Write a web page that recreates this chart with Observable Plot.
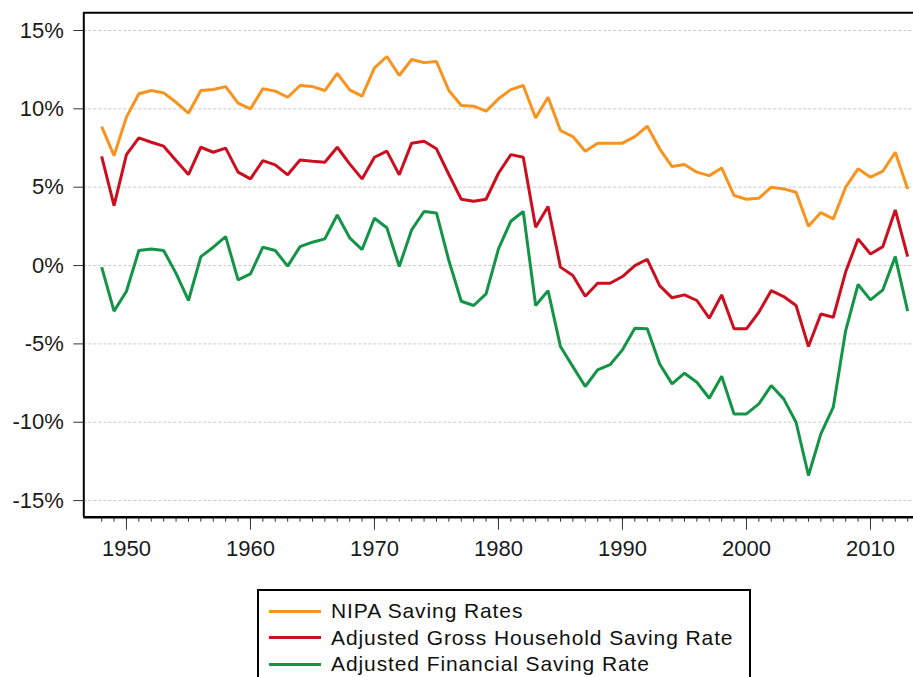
<!DOCTYPE html>
<html>
<head>
<meta charset="utf-8">
<script src="https://cdn.jsdelivr.net/npm/d3@7"></script>
<script src="https://cdn.jsdelivr.net/npm/@observablehq/plot@0.6"></script>
<style>
  html, body { margin: 0; padding: 0; background: #fff; }
  #wrap { position: relative; width: 913px; height: 677px; overflow: hidden; background: #fff;
          font-family: "Liberation Sans", Arial, sans-serif; }
  #chart svg { display: block; }
  #legend { position: absolute; left: 257px; top: 589px; width: 490px; height: 120px;
            border: 2px solid #000; background: #fff; }
  .row { position: absolute; left: 10px; height: 26px; display: flex; align-items: center; }
  .swatch { width: 52px; height: 3px; margin-right: 10px; }
  .lab { font-size: 21px; letter-spacing: 0.9px; color: #111; white-space: nowrap; line-height: 26px; }
</style>
</head>
<body>
<div id="wrap">
  <div id="chart"></div>
  <div id="legend"></div>
</div>
<script>
// ---- data (percent) ----
const years = [1948,1949,1950,1951,1952,1953,1954,1955,1956,1957,1958,1959,1960,1961,1962,1963,1964,1965,1966,1967,1968,1969,1970,1971,1972,1973,1974,1975,1976,1977,1978,1979,1980,1981,1982,1983,1984,1985,1986,1987,1988,1989,1990,1991,1992,1993,1994,1995,1996,1997,1998,1999,2000,2001,2002,2003,2004,2005,2006,2007,2008,2009,2010,2011,2012,2013];

const nipa = [8.87,7.02,9.47,10.96,11.17,11.02,10.42,9.72,11.17,11.23,11.42,10.36,10.0,11.28,11.13,10.74,11.49,11.42,11.17,12.27,11.21,10.81,12.61,13.34,12.13,13.15,12.95,13.02,11.17,10.21,10.17,9.85,10.64,11.23,11.49,9.42,10.74,8.62,8.23,7.30,7.81,7.81,7.81,8.23,8.89,7.45,6.32,6.45,5.96,5.74,6.23,4.47,4.23,4.30,5.0,4.89,4.68,2.51,3.38,2.98,5.0,6.17,5.64,6.02,7.23,4.89];

const grossHH = [6.96,3.83,7.08,8.15,7.87,7.62,6.70,5.81,7.55,7.23,7.49,5.96,5.53,6.70,6.42,5.79,6.74,6.66,6.59,7.55,6.49,5.53,6.91,7.30,5.79,7.81,7.93,7.45,5.81,4.23,4.10,4.23,5.89,7.08,6.91,2.45,3.77,-0.10,-0.64,-1.96,-1.13,-1.13,-0.70,0.0,0.40,-1.28,-2.06,-1.87,-2.23,-3.36,-1.87,-4.04,-4.04,-2.98,-1.60,-1.98,-2.55,-5.17,-3.09,-3.30,-0.40,1.70,0.74,1.21,3.55,0.57];

const financial = [-0.10,-2.91,-1.64,0.96,1.06,0.96,-0.50,-2.23,0.57,1.17,1.85,-0.91,-0.53,1.17,0.96,-0.04,1.21,1.49,1.70,3.23,1.77,1.02,3.02,2.41,-0.06,2.28,3.45,3.36,0.32,-2.28,-2.55,-1.81,1.06,2.83,3.45,-2.55,-1.60,-5.17,-6.45,-7.72,-6.66,-6.33,-5.38,-4.0,-4.04,-6.28,-7.55,-6.87,-7.45,-8.47,-7.06,-9.47,-9.47,-8.83,-7.66,-8.51,-10.0,-13.40,-10.74,-9.04,-4.15,-1.21,-2.19,-1.55,0.57,-2.91];

const seriesNames = ["NIPA Saving Rates", "Adjusted Gross Household Saving Rate", "Adjusted Financial Saving Rate"];
const seriesColors = ["#F7931E", "#CC0E1F", "#139447"];
const yTicks = [-15, -10, -5, 0, 5, 10, 15];
const xTicks = [1950, 1960, 1970, 1980, 1990, 2000, 2010];

// ---- build table ----
const seriesValues = [nipa, grossHH, financial];
const rows = [];
seriesValues.forEach((vals, s) => {
  vals.forEach((v, i) => rows.push({ year: years[i], value: v, series: seriesNames[s] }));
});

const xDomain = [1946.56, 2013.47];
const yDomain = [-16.06, 16.13];

const chart = Plot.plot({
  width: 913,
  height: 575,
  marginTop: 12.3,
  marginLeft: 83.3,
  marginRight: 0,
  marginBottom: 58.3,
  x: { domain: xDomain, axis: null },
  y: { domain: yDomain, axis: null },
  color: { domain: seriesNames, range: seriesColors },
  style: { fontFamily: "'Liberation Sans', Arial, sans-serif", background: "#fff", color: "#1a1a1a" },
  marks: [
    Plot.ruleY(yTicks, { stroke: "#c9c9c9", strokeDasharray: "3,2", strokeWidth: 1 }),
    Plot.line(rows, { x: "year", y: "value", z: "series", stroke: "series", strokeWidth: 3, strokeLinejoin: "miter", strokeLinecap: "butt" }),
    Plot.axisY({ ticks: yTicks, tickSize: 10, tickPadding: 10, tickFormat: d => d + "%", label: null, fontSize: 22, stroke: "#333" }),
    Plot.axisX({ ticks: years, tickSize: 5, tickFormat: () => "", label: null, stroke: "#333" }),
    Plot.axisX({ ticks: xTicks, tickSize: 13, tickPadding: 10, tickFormat: d => String(d), label: null, fontSize: 22, stroke: "#333" }),
    Plot.ruleX([xDomain[0]], { stroke: "#000", strokeWidth: 2 }),
    Plot.ruleY([yDomain[0]], { stroke: "#000", strokeWidth: 2.5 }),
    Plot.ruleY([yDomain[1]], { stroke: "#000", strokeWidth: 2 })
  ]
});
document.getElementById("chart").appendChild(chart);

// ---- legend ----
const legend = document.getElementById("legend");
seriesNames.forEach((name, i) => {
  const row = document.createElement("div");
  row.className = "row";
  row.style.top = (7 + i * 26.6) + "px";
  const sw = document.createElement("div");
  sw.className = "swatch";
  sw.style.background = seriesColors[i];
  const lab = document.createElement("span");
  lab.className = "lab";
  lab.textContent = name;
  row.appendChild(sw);
  row.appendChild(lab);
  legend.appendChild(row);
});
</script>
</body>
</html>
